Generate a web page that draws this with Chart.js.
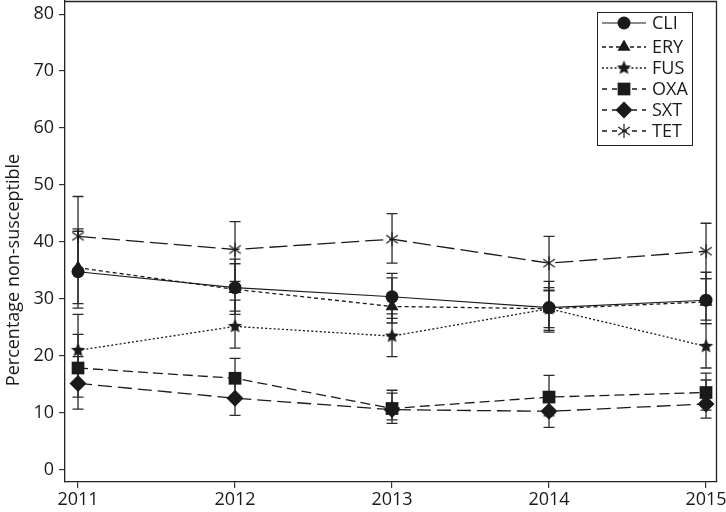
<!DOCTYPE html>
<html lang="en">
<head>
  <meta charset="UTF-8">
  <title>Percentage non-susceptible</title>
  <script src="https://cdn.jsdelivr.net/npm/chart.js"></script>
  <style>
    body { margin: 0; background: #fff; }
    #wrap { width: 726px; height: 512px; }
  </style>
</head>
<body>
<div id="wrap"><canvas id="chart" width="726" height="512"></canvas></div>
<script>
// data
const years = [2011, 2012, 2013, 2014, 2015];
const yTicks = [0, 10, 20, 30, 40, 50, 60, 70, 80];
const labels = ['CLI', 'ERY', 'FUS', 'OXA', 'SXT', 'TET'];

const cli   = [34.8, 32.0, 30.4, 28.5, 29.8];
const cliLo = [28.4, 27.9, 26.6, 24.2, 25.7];
const cliHi = [41.9, 36.2, 34.5, 33.1, 34.7];

const ery   = [35.5, 31.7, 28.7, 28.3, 29.5];
const eryLo = [29.2, 27.3, 25.8, 25.0, 26.3];
const eryHi = [42.3, 37.0, 33.7, 31.5, 33.6];

const fus   = [21.0, 25.2, 23.5, 28.3, 21.7];
const fusLo = [15.0, 21.4, 19.9, 24.5, 17.9];
const fusHi = [27.3, 29.8, 27.4, 32.0, 25.7];

const oxa   = [17.9, 16.1, 10.8, 12.8, 13.6];
const oxaLo = [12.8, 12.8, 8.2, 9.5, 10.5];
const oxaHi = [23.8, 19.6, 14.0, 16.6, 17.0];

const sxt   = [15.2, 12.6, 10.6, 10.3, 11.6];
const sxtLo = [10.7, 9.6, 8.8, 7.5, 9.1];
const sxtHi = [19.9, 15.9, 13.5, 13.2, 15.8];

const tet   = [41.0, 38.7, 40.5, 36.3, 38.4];
const tetLo = [34.6, 33.1, 36.3, 31.5, 33.6];
const tetHi = [48.0, 43.6, 45.0, 41.0, 43.3];

const FONT = "'Open Sans', 'Noto Sans', sans-serif";
const INK = '#1a1a1a';

// custom marker images
function starImg(r) {
  const c = document.createElement('canvas');
  c.width = c.height = Math.ceil(r * 2 + 2);
  const g = c.getContext('2d');
  const cx = c.width / 2, cy = c.height / 2;
  g.beginPath();
  for (let i = 0; i < 10; i++) {
    const a = -Math.PI / 2 + i * Math.PI / 5;
    const rr = i % 2 === 0 ? r : r * 0.45;
    g.lineTo(cx + rr * Math.cos(a), cy + rr * Math.sin(a));
  }
  g.closePath();
  g.fillStyle = INK;
  g.fill();
  return c;
}

function asteriskImg(r) {
  const c = document.createElement('canvas');
  c.width = c.height = Math.ceil(r * 2 + 2);
  const g = c.getContext('2d');
  const cx = c.width / 2, cy = c.height / 2;
  g.strokeStyle = INK;
  g.lineWidth = 1.2;
  g.beginPath();
  [90, 35, 145].forEach(d => {
    const a = d * Math.PI / 180;
    g.moveTo(cx - r * Math.cos(a), cy - r * Math.sin(a));
    g.lineTo(cx + r * Math.cos(a), cy + r * Math.sin(a));
  });
  g.stroke();
  return c;
}

const STAR = starImg(7.5);
const AST = asteriskImg(7);

function pts(arr) { return years.map((x, i) => ({ x: x, y: arr[i] })); }

function ds(label, arr, lo, hi, dash, style, radius, width) {
  return {
    label: label,
    data: pts(arr),
    errLo: lo, errHi: hi,
    borderColor: INK, backgroundColor: INK,
    borderWidth: width || 1.3,
    borderDash: dash,
    pointStyle: style,
    pointRadius: radius,
    pointBorderWidth: 0,
    pointBackgroundColor: INK,
    tension: 0,
    fill: false
  };
}

const datasets = [
  ds('CLI', cli, cliLo, cliHi, [], 'circle', 6.5, 1.1),
  ds('ERY', ery, eryLo, eryHi, [4, 3], 'triangle', 7.5),
  ds('FUS', fus, fusLo, fusHi, [2, 2.2], STAR, 7.5),
  ds('OXA', oxa, oxaLo, oxaHi, [10, 5], 'rect', 9),
  ds('SXT', sxt, sxtLo, sxtHi, [14, 6], 'rectRot', 8.5),
  ds('TET', tet, tetLo, tetHi, [18, 6], AST, 7)
];

const errorBars = {
  id: 'errorBars',
  beforeDatasetsDraw(chart) {
    const ctx = chart.ctx, xs = chart.scales.x, ys = chart.scales.y;
    ctx.save();
    ctx.strokeStyle = '#2a2a2a';
    ctx.lineWidth = 1.3;
    ctx.setLineDash([]);
    chart.data.datasets.forEach(d => {
      years.forEach((yr, i) => {
        const x = xs.getPixelForValue(yr);
        const y1 = ys.getPixelForValue(d.errLo[i]);
        const y2 = ys.getPixelForValue(d.errHi[i]);
        ctx.beginPath();
        ctx.moveTo(x, y1); ctx.lineTo(x, y2);
        ctx.moveTo(x - 5.5, y1); ctx.lineTo(x + 5.5, y1);
        ctx.moveTo(x - 5.5, y2); ctx.lineTo(x + 5.5, y2);
        ctx.stroke();
      });
    });
    ctx.restore();
  }
};

function drawMarker(ctx, style, r, x, y) {
  ctx.fillStyle = INK;
  if (style instanceof HTMLCanvasElement) {
    ctx.drawImage(style, x - style.width / 2, y - style.height / 2);
    return;
  }
  ctx.beginPath();
  if (style === 'circle') {
    ctx.arc(x, y, r, 0, Math.PI * 2);
  } else if (style === 'triangle') {
    ctx.moveTo(x, y - r);
    ctx.lineTo(x + r * 0.866, y + r * 0.5);
    ctx.lineTo(x - r * 0.866, y + r * 0.5);
  } else if (style === 'rect') {
    const s = r * Math.SQRT1_2;
    ctx.rect(x - s, y - s, 2 * s, 2 * s);
  } else if (style === 'rectRot') {
    ctx.moveTo(x, y - r); ctx.lineTo(x + r, y);
    ctx.lineTo(x, y + r); ctx.lineTo(x - r, y);
  }
  ctx.closePath();
  ctx.fill();
}

const frameAndLegend = {
  id: 'frameAndLegend',
  afterDraw(chart) {
    const ctx = chart.ctx, a = chart.chartArea;
    ctx.save();
    // top and right edges of the frame
    ctx.strokeStyle = '#222';
    ctx.lineWidth = 1.3;
    ctx.beginPath();
    ctx.moveTo(a.left, a.top + 0.5); ctx.lineTo(a.right - 0.5, a.top + 0.5);
    ctx.lineTo(a.right - 0.5, a.bottom);
    ctx.stroke();

    // legend box
    const bx = 597.5, by = 12.5, bw = 95, bh = 133;
    ctx.lineWidth = 1;
    ctx.strokeRect(bx, by, bw, bh);
    const rowY = [23, 47, 68, 89, 110, 131];
    ctx.font = '18px ' + FONT;
    ctx.textBaseline = 'middle';
    chart.data.datasets.forEach((d, i) => {
      const y = rowY[i];
      ctx.strokeStyle = INK;
      ctx.lineWidth = d.borderWidth;
      ctx.setLineDash(d.borderDash.length ? d.borderDash.map(v => Math.min(v, 5)) : []);
      ctx.beginPath();
      ctx.moveTo(602, y); ctx.lineTo(646, y);
      ctx.stroke();
      ctx.setLineDash([]);
      drawMarker(ctx, d.pointStyle, d.pointRadius, 624, y);
      ctx.fillStyle = INK;
      ctx.fillText(labels[i], 652, y + 1);
    });

    // y axis title
    ctx.translate(14, 270);
    ctx.rotate(-Math.PI / 2);
    ctx.textAlign = 'center';
    ctx.textBaseline = 'middle';
    ctx.font = '18px ' + FONT;
    ctx.fillStyle = INK;
    ctx.fillText('Percentage non-susceptible', 0, 0);
    ctx.restore();
  }
};

new Chart(document.getElementById('chart'), {
  type: 'line',
  data: { datasets: datasets },
  options: {
    responsive: false,
    animation: false,
    devicePixelRatio: 1,
    layout: { autoPadding: false, padding: { top: 1, right: 9, left: 0, bottom: 0 } },
    plugins: { legend: { display: false }, tooltip: { enabled: false } },
    scales: {
      x: {
        type: 'linear',
        min: 2010.917,
        max: 2015.07,
        afterBuildTicks: s => { s.ticks = years.map(v => ({ value: v })); },
        afterFit: s => { s.height = 30; s.paddingLeft = 0; s.paddingRight = 0; },
        ticks: { font: { family: FONT, size: 18 }, color: INK, padding: 1, maxRotation: 0, autoSkip: false, callback: v => String(v) },
        grid: { display: true, drawOnChartArea: false, drawTicks: true, tickLength: 6, color: '#333', lineWidth: 1.2 },
        border: { display: true, color: '#222', width: 1.3 }
      },
      y: {
        min: -2.1,
        max: 82.3,
        afterBuildTicks: s => { s.ticks = yTicks.map(v => ({ value: v })); },
        afterFit: s => { s.width = 65; s.paddingTop = 0; s.paddingBottom = 0; },
        ticks: { font: { family: FONT, size: 18 }, color: INK, padding: 5 },
        grid: { display: true, drawOnChartArea: false, drawTicks: true, tickLength: 6, color: '#333', lineWidth: 1.2 },
        border: { display: true, color: '#222', width: 1.3 }
      }
    }
  },
  plugins: [errorBars, frameAndLegend]
});
</script>
</body>
</html>
